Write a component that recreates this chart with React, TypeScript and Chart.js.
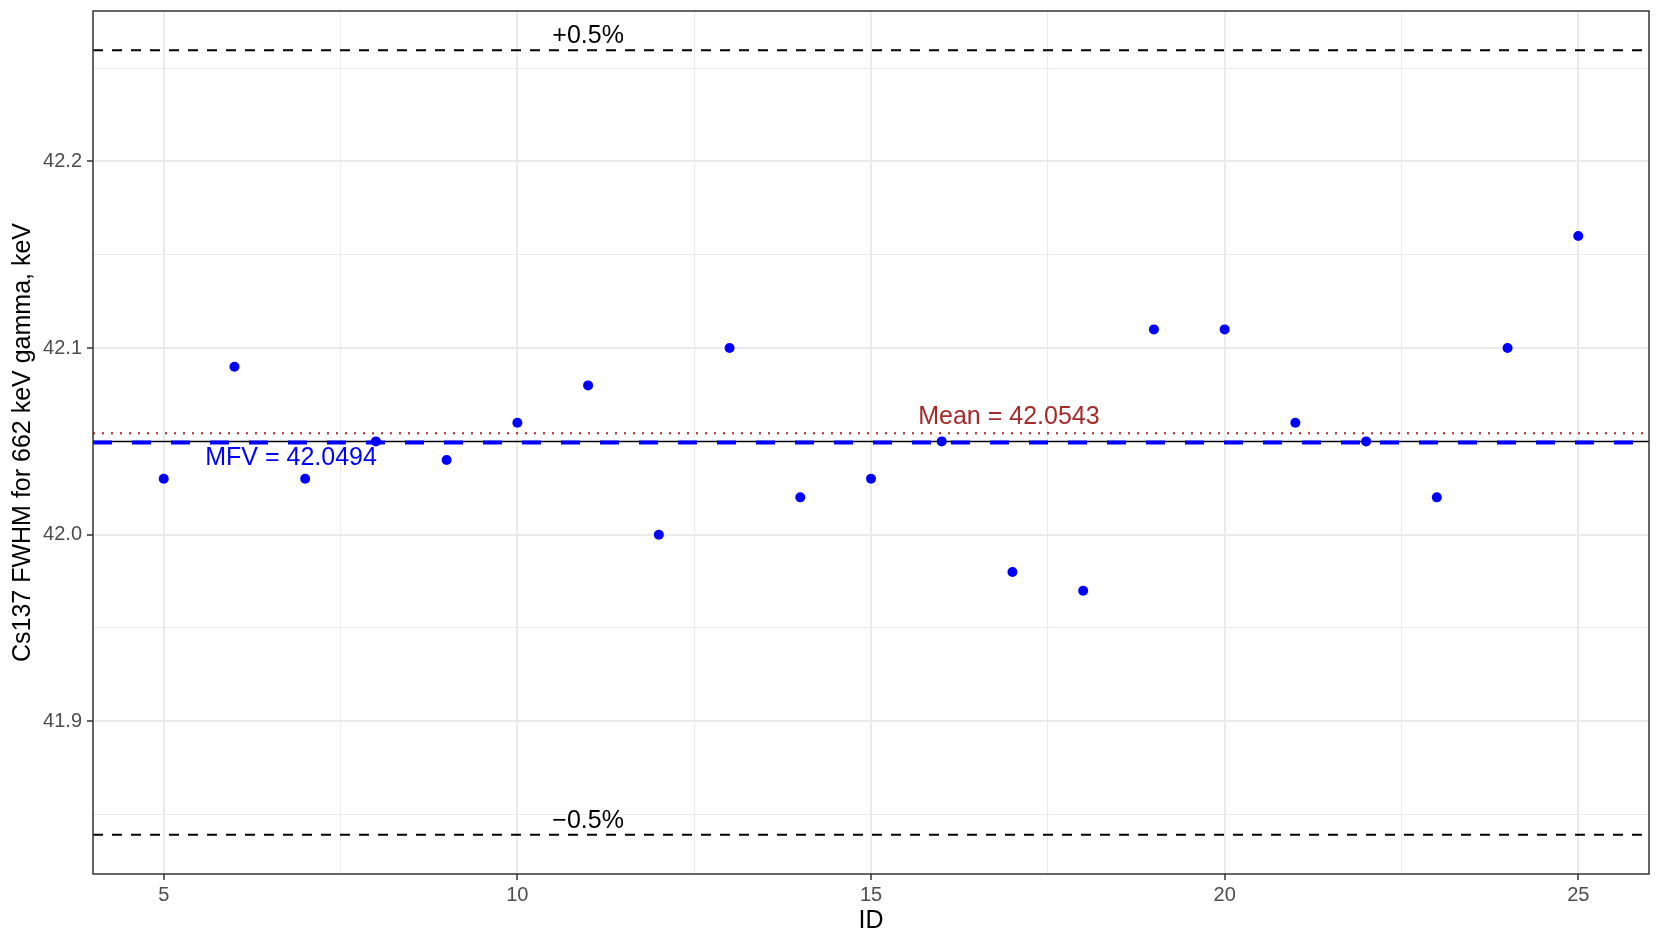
import { useEffect, useRef } from "react";
import { Chart, registerables } from "chart.js";

Chart.register(...registerables);

// ---- data ----
const ids = [5, 6, 7, 8, 9, 10, 11, 12, 13, 14, 15, 16, 17, 18, 19, 20, 21, 22, 23, 24, 25];
const fwhm = [
  42.03, 42.09, 42.03, 42.05, 42.04, 42.06, 42.08, 42.0, 42.1, 42.02, 42.03,
  42.05, 41.98, 41.97, 42.11, 42.11, 42.06, 42.05, 42.02, 42.1, 42.16,
];

const xMajorTicks = [5, 10, 15, 20, 25];
const xMinorTicks = [7.5, 12.5, 17.5, 22.5];
const yMajorTicks = [41.9, 42.0, 42.1, 42.2];
const yMinorTicks = [41.85, 41.95, 42.05, 42.15, 42.25];
const xLimits = [4, 26];
const yLimits = [41.8182, 42.2806];

const mfvValue = 42.0494;
const meanValue = 42.0543;
const medianValue = 42.05;
const upperLimit = 42.2596;
const lowerLimit = 41.8392;

const upperLabel = "+0.5%";
const lowerLabel = "\u22120.5%";
const meanLabel = "Mean = 42.0543";
const mfvLabel = "MFV = 42.0494";
const percentLabelX = 11;
const meanLabelX = 16.95;
const mfvLabelX = 6.8;

const xTitle = "ID";
const yTitle = "Cs137 FWHM for 662 keV gamma, keV";

const FONT = '"Liberation Sans", Arial, Helvetica, sans-serif';

const refPlugin = {
  id: "refLines",
  beforeDatasetsDraw(chart: any) {
    const { ctx, chartArea: a, scales } = chart;
    const y = scales.y;
    ctx.save();
    ctx.beginPath();
    ctx.rect(a.left, a.top, a.right - a.left, a.bottom - a.top);
    ctx.clip();
    const hline = (v: number, color: string, width: number, dash: number[]) => {
      const py = y.getPixelForValue(v);
      ctx.beginPath();
      ctx.setLineDash(dash);
      ctx.lineDashOffset = 0;
      ctx.strokeStyle = color;
      ctx.lineWidth = width;
      ctx.lineCap = "butt";
      ctx.moveTo(a.left, py);
      ctx.lineTo(a.right, py);
      ctx.stroke();
    };
    hline(upperLimit, "#000000", 2, [10, 9]);
    hline(lowerLimit, "#000000", 2, [10, 9]);
    hline(meanValue, "#A52A2A", 2, [2, 7]);
    hline(medianValue, "#000000", 1.5, []);
    hline(mfvValue, "#0000FF", 4, [19, 20]);
    ctx.restore();
  },
  afterDatasetsDraw(chart: any) {
    const { ctx, scales } = chart;
    const x = scales.x;
    const y = scales.y;
    ctx.save();
    ctx.font = `25px ${FONT}`;
    ctx.textAlign = "center";
    ctx.textBaseline = "alphabetic";
    ctx.fillStyle = "#000000";
    ctx.fillText(upperLabel, x.getPixelForValue(percentLabelX), y.getPixelForValue(upperLimit) - 7);
    ctx.fillText(lowerLabel, x.getPixelForValue(percentLabelX), y.getPixelForValue(lowerLimit) - 7);
    ctx.fillStyle = "#A52A2A";
    ctx.fillText(meanLabel, x.getPixelForValue(meanLabelX), y.getPixelForValue(meanValue) - 9);
    ctx.fillStyle = "#0000FF";
    ctx.fillText(mfvLabel, x.getPixelForValue(mfvLabelX), y.getPixelForValue(mfvValue) + 22);
    ctx.restore();
  },
  afterDraw(chart: any) {
    const { ctx, chartArea: a } = chart;
    ctx.save();
    ctx.strokeStyle = "#333333";
    ctx.lineWidth = 1.5;
    ctx.setLineDash([]);
    ctx.strokeRect(a.left, a.top, a.right - a.left, a.bottom - a.top);
    ctx.restore();
  },
};

const isMajor = (list: number[], v: number) => list.some((m) => Math.abs(m - v) < 1e-9);

export default function App() {
  const canvasRef = useRef<HTMLCanvasElement | null>(null);

  useEffect(() => {
    if (!canvasRef.current) return;
    const chart = new Chart(canvasRef.current, {
      type: "scatter",
      data: {
        datasets: [
          {
            data: ids.map((id, i) => ({ x: id, y: fwhm[i] })),
            backgroundColor: "#0000FF",
            borderColor: "#0000FF",
            borderWidth: 0,
            pointRadius: 5,
            pointHoverRadius: 5,
          },
        ],
      },
      options: {
        responsive: false,
        animation: false,
        events: [],
        layout: { padding: { top: 11, right: 12, left: 0, bottom: 0 } },
        plugins: {
          legend: { display: false },
          tooltip: { enabled: false },
        },
        scales: {
          x: {
            type: "linear",
            min: xLimits[0],
            max: xLimits[1],
            afterBuildTicks: (scale: any) => {
              scale.ticks = [...xMajorTicks, ...xMinorTicks]
                .sort((a, b) => a - b)
                .map((v) => ({ value: v }));
            },
            afterFit: (scale: any) => {
              scale.height = 72;
              scale.paddingLeft = 0;
              scale.paddingRight = 0;
            },
            ticks: {
              autoSkip: false,
              maxRotation: 0,
              padding: 3,
              color: "#4D4D4D",
              font: { family: FONT, size: 20 },
              callback: (v: any) => (isMajor(xMajorTicks, Number(v)) ? String(v) : ""),
            },
            grid: {
              color: "#EBEBEB",
              lineWidth: (c: any) => (isMajor(xMajorTicks, c.tick?.value) ? 2 : 1.1),
              tickColor: (c: any) =>
                isMajor(xMajorTicks, c.tick?.value) ? "#333333" : "rgba(0,0,0,0)",
              tickWidth: 1.5,
              tickLength: 6,
            },
            border: { display: false },
            title: {
              display: true,
              text: xTitle,
              color: "#000000",
              font: { family: FONT, size: 25 },
              padding: { top: 0, bottom: 10 },
            },
          },
          y: {
            type: "linear",
            min: yLimits[0],
            max: yLimits[1],
            afterBuildTicks: (scale: any) => {
              scale.ticks = [...yMajorTicks, ...yMinorTicks]
                .sort((a, b) => a - b)
                .map((v) => ({ value: v }));
            },
            afterFit: (scale: any) => {
              scale.width = 93;
              scale.paddingTop = 0;
              scale.paddingBottom = 0;
            },
            ticks: {
              autoSkip: false,
              padding: 5,
              color: "#4D4D4D",
              font: { family: FONT, size: 20 },
              callback: (v: any) =>
                isMajor(yMajorTicks, Number(v)) ? Number(v).toFixed(1) : "",
            },
            grid: {
              color: "#EBEBEB",
              lineWidth: (c: any) => (isMajor(yMajorTicks, c.tick?.value) ? 2 : 1.1),
              tickColor: (c: any) =>
                isMajor(yMajorTicks, c.tick?.value) ? "#333333" : "rgba(0,0,0,0)",
              tickWidth: 1.5,
              tickLength: 6,
            },
            border: { display: false },
            title: {
              display: true,
              text: yTitle,
              color: "#000000",
              font: { family: FONT, size: 25 },
              padding: { top: 8, bottom: 0 },
            },
          },
        },
      },
      plugins: [refPlugin],
    } as any);
    return () => chart.destroy();
  }, []);

  return (
    <div
      style={{
        position: "fixed",
        left: 0,
        top: 0,
        width: 1661,
        height: 946,
        background: "#ffffff",
      }}
    >
      <canvas ref={canvasRef} width={1661} height={946} style={{ display: "block" }} />
    </div>
  );
}
